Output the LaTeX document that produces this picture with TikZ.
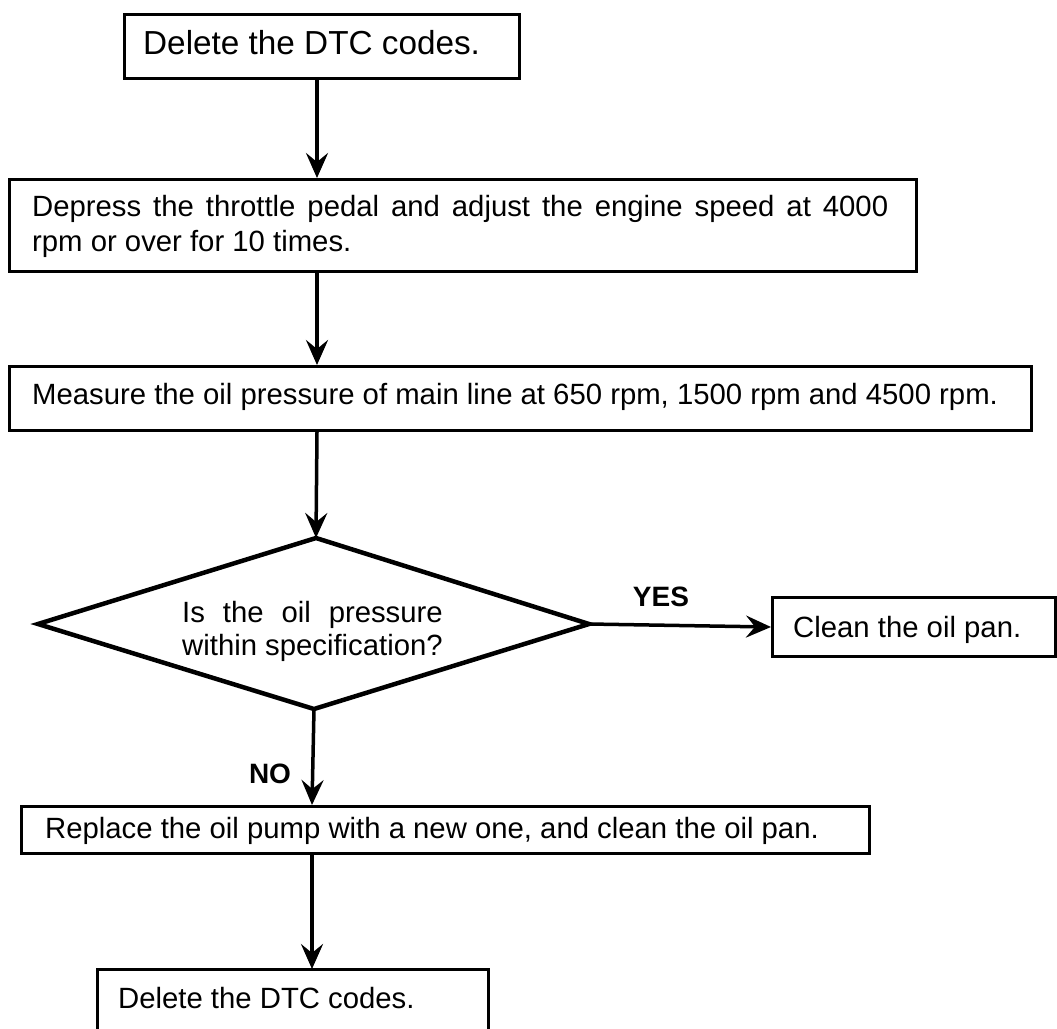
\documentclass[tikz,border=0pt]{standalone}
\usepackage{fontspec}
\setmainfont{Liberation Sans}
\usetikzlibrary{arrows.meta}
\newlength\diaw
\begin{document}
\begin{tikzpicture}[x=1pt,y=-1pt,
  font=\fontsize{29.3}{36}\selectfont,
  boxs/.style={draw,line width=3pt,anchor=north west,inner sep=0pt},
  txt/.style={anchor=base west,inner sep=0pt},
  arr/.style={line width=3.5pt,-{Stealth[length=25pt,width=22pt,inset=9pt]}},
  lbl/.style={anchor=base,font=\fontsize{28}{32}\selectfont\bfseries,inner sep=0pt}
]
\useasboundingbox (0,0) rectangle (1057,1028);
% boxes
\node[boxs,minimum width=395pt,minimum height=64pt] (b1) at (123,13) {};
\node[txt,font=\fontsize{33.3}{38}\selectfont] (t1) at (143,54) {Delete the DTC codes.};
\node[boxs,minimum width=907pt,minimum height=92pt] (b2) at (8,178) {};
\node[txt] (t2a) at (32,216) {\makebox[856pt][s]{Depress the throttle pedal and adjust the engine speed at 4000}};
\node[txt] (t2b) at (32,251) {rpm or over for 10 times.};
\node[boxs,minimum width=1022pt,minimum height=64pt] (b3) at (8,365) {};
\node[txt] (t3) at (32,404) {Measure the oil pressure of main line at 650 rpm, 1500 rpm and 4500 rpm.};
\node[boxs,minimum width=283pt,minimum height=59pt] (clean) at (771,596) {};
\node[txt] (tc) at (793,637) {Clean the oil pan.};
\node[boxs,minimum width=848pt,minimum height=47pt] (b5) at (20,805) {};
\node[txt] (t5) at (45,838) {Replace the oil pump with a new one, and clean the oil pan.};
% open bottom box
\coordinate (b6bl) at (97,1032);
\coordinate (b6tl) at (97,969);
\coordinate (b6tr) at (488,969);
\coordinate (b6br) at (488,1032);
\draw[line width=3pt] (b6bl) -- (b6tl) -- (b6tr) -- (b6br);
\node[txt] (t6) at (118,1008) {Delete the DTC codes.};
% diamond
\coordinate (dt) at (316,538);
\coordinate (dl) at (38,624);
\coordinate (dr) at (589,624);
\coordinate (db) at (314,709);
\draw[line width=4.5pt,line join=miter] (dt) -- (dr) -- (db) -- (dl) -- cycle;
\node[txt] (dq1) at (182,622)
  {\settowidth{\diaw}{within specification?}\makebox[\diaw][s]{Is the oil pressure}};
\node[txt] (dq2) at (182,655) {within specification?};
% labels
\node[lbl] (yes) at (661,606) {YES};
\node[lbl] (no) at (270,783) {NO};
% connectors
\coordinate (ax) at (317,0);
\coordinate (bx) at (312,0);
\draw[arr] (b1.south -| ax) -- (b2.north -| ax);
\draw[arr] (b2.south -| ax) -- (b3.north -| ax);
\draw[arr] (b3.south -| ax) -- (dt);
\draw[arr] (dr) -- (clean.west);
\draw[arr] (db) -- (b5.north -| bx);
\draw[arr] (b5.south -| bx) -- (b6tl -| bx);
\end{tikzpicture}
\end{document}
